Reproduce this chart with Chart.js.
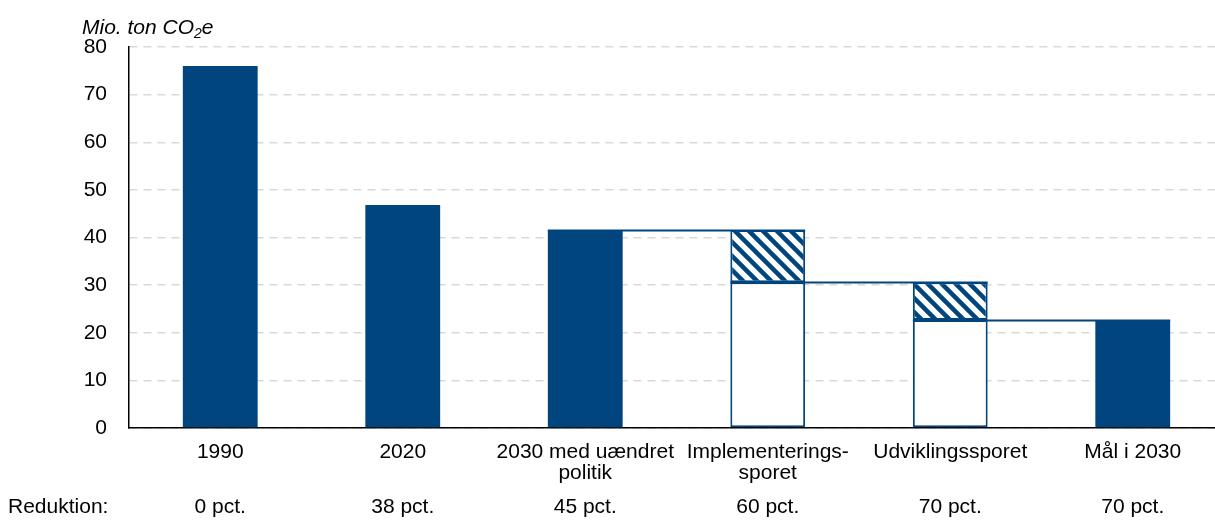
<!DOCTYPE html>
<html>
<head>
<meta charset="utf-8">
<script src="https://cdn.jsdelivr.net/npm/chart.js@4"></script>
<style>
    html, body { margin: 0; padding: 0; background: #fff; overflow: hidden; }
    #wrap { width: 1224px; height: 527px; position: relative; }
</style>
</head>
<body>
<div id="wrap"><canvas id="chart"></canvas></div>
<script>
const categories = [['1990'], ['2020'], ['2030 med uændret', 'politik'], ['Implementerings-', 'sporet'], ['Udviklingssporet'], ['Mål i 2030']];
const reductions = ['0 pct.', '38 pct.', '45 pct.', '60 pct.', '70 pct.', '70 pct.'];
const solidValues = [76.0, 46.8, 41.6, null, null, 22.7];
const baseValues = [null, null, null, 30.6, 22.7, null];
const hatchValues = [null, null, null, 11.0, 7.9, null];
const yTicks = [0, 10, 20, 30, 40, 50, 60, 70, 80];

const BLUE = '#00457e';
const FONT = "'Liberation Sans', Arial, sans-serif";

function makeHatch() {
    const c = document.createElement('canvas');
    c.width = 14;
    c.height = 14;
    const g = c.getContext('2d');
    g.fillStyle = '#fff';
    g.fillRect(0, 0, 14, 14);
    g.strokeStyle = BLUE;
    g.lineWidth = 4.5;
    g.beginPath();
    g.moveTo(-7, -7); g.lineTo(21, 21);
    g.moveTo(-7, 7); g.lineTo(7, 21);
    g.moveTo(7, -7); g.lineTo(21, 7);
    g.stroke();
    return g.createPattern(c, 'repeat');
}

// stack total per category, used for connector levels
const totals = categories.map((c, i) => (solidValues[i] || 0) + (baseValues[i] || 0) + (hatchValues[i] || 0));

const extras = {
    id: 'extras',
    afterDatasetsDraw(chart) {
        const ctx = chart.ctx;
        const x = chart.scales.x;
        const y = chart.scales.y;
        const bw = chart.getDatasetMeta(0).data[0].width;
        ctx.save();
        ctx.strokeStyle = BLUE;
        ctx.lineWidth = 2;
        for (let i = 2; i < categories.length - 1; i++) {
            const yy = Math.round(y.getPixelForValue(totals[i + 1])) + 0.5;
            ctx.beginPath();
            ctx.moveTo(x.getPixelForValue(i) - bw / 2, yy);
            ctx.lineTo(x.getPixelForValue(i + 1) + bw / 2, yy);
            ctx.stroke();
        }
        ctx.restore();
    },
    afterDraw(chart) {
        const ctx = chart.ctx;
        ctx.save();
        ctx.fillStyle = '#000';
        ctx.textBaseline = 'alphabetic';
        // unit label
        ctx.font = 'italic 21px ' + FONT;
        let tx = 82;
        const ty = 34;
        ctx.fillText('Mio. ton CO', tx, ty);
        tx += ctx.measureText('Mio. ton CO').width;
        ctx.font = 'italic 14px ' + FONT;
        ctx.fillText('2', tx, ty + 4);
        tx += ctx.measureText('2').width;
        ctx.font = 'italic 21px ' + FONT;
        ctx.fillText('e', tx, ty);
        // row label, aligned with the reduction ticks
        const x2 = chart.scales.x2;
        ctx.font = '21px ' + FONT;
        ctx.textBaseline = 'middle';
        ctx.fillText('Reduktion:', 8, x2.top + 12 + 10.5);
        ctx.restore();
    }
};

const hatch = makeHatch();
const tickFont = { family: FONT, size: 21, lineHeight: 1.0 };

new Chart(document.getElementById('chart'), {
    type: 'bar',
    data: {
        labels: categories,
        datasets: [
            {
                data: solidValues,
                backgroundColor: BLUE,
                borderWidth: 0,
                barPercentage: 0.41,
                categoryPercentage: 1,
            },
            {
                data: baseValues,
                backgroundColor: '#fff',
                borderColor: BLUE,
                borderWidth: 2,
                borderSkipped: false,
                barPercentage: 0.41,
                categoryPercentage: 1,
            },
            {
                data: hatchValues,
                backgroundColor: hatch,
                borderColor: BLUE,
                borderWidth: 2,
                borderSkipped: false,
                barPercentage: 0.41,
                categoryPercentage: 1,
            },
        ],
    },
    options: {
        responsive: true,
        maintainAspectRatio: false,
        animation: false,
        layout: { padding: { top: 47, left: 0, right: 0, bottom: 0 } },
        plugins: {
            legend: { display: false },
            tooltip: { enabled: false },
        },
        scales: {
            x: {
                stacked: true,
                weight: 0,
                grid: { display: false, drawTicks: false },
                border: { display: true, color: '#000', width: 1.5 },
                ticks: {
                    color: '#000',
                    padding: 14,
                    maxRotation: 0,
                    autoSkip: false,
                    font: tickFont,
                },
                afterFit: (s) => { s.height = 57; },
            },
            x2: {
                type: 'category',
                position: 'bottom',
                weight: 1,
                labels: reductions,
                grid: { display: false, drawTicks: false },
                border: { display: false },
                ticks: {
                    color: '#000',
                    padding: 12,
                    maxRotation: 0,
                    autoSkip: false,
                    font: tickFont,
                },
                afterFit: (s) => { s.height = 42; },
            },
            y: {
                stacked: true,
                min: 0,
                max: 80,
                afterBuildTicks: (s) => { s.ticks = yTicks.map((v) => ({ value: v })); },
                grid: { color: '#d9d9d9', lineWidth: 1.5, drawTicks: false },
                border: { display: true, color: '#000', width: 1.5, dash: [8, 6] },
                ticks: {
                    color: '#000',
                    padding: 22,
                    font: { family: FONT, size: 21 },
                },
                afterFit: (s) => { s.width = 129; },
            },
        },
    },
    plugins: [extras],
});
</script>
</body>
</html>
